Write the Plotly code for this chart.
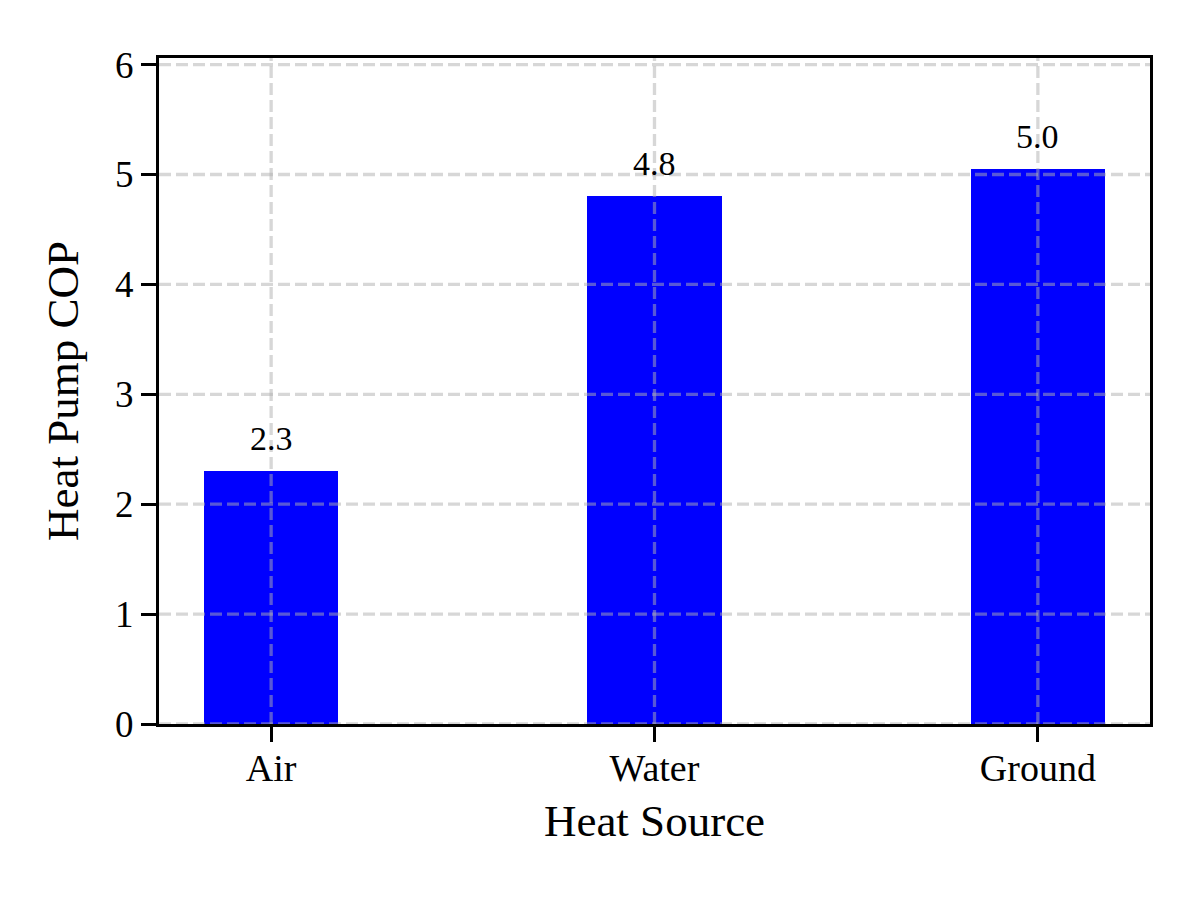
import plotly.graph_objects as go

categories = ["Air", "Water", "Ground"]
cop_values = [2.3, 4.8, 5.05]
value_labels = ["2.3", "4.8", "5.0"]
y_ticks = [0, 1, 2, 3, 4, 5, 6]

FONT = "Liberation Serif"
GRID = "rgba(176,176,176,0.5)"

fig = go.Figure()
fig.add_trace(go.Bar(
    x=categories, y=cop_values, width=0.35,
    marker=dict(color="#0000ff", line=dict(width=0)),
    showlegend=False, hoverinfo="skip",
))

# grid lines drawn above bars (as in reference)
shapes = []
for t in y_ticks:
    shapes.append(dict(type="line", xref="paper", yref="y", x0=0, x1=1, y0=t, y1=t,
                       line=dict(color=GRID, width=3.3, dash="12px,5px"), layer="above"))
for c in categories:
    shapes.append(dict(type="line", xref="x", yref="paper", x0=c, x1=c, y0=0, y1=1,
                       line=dict(color=GRID, width=3.3, dash="12px,5px"), layer="above"))

annotations = []
for c, v, lab in zip(categories, cop_values, value_labels):
    annotations.append(dict(x=c, y=v, text=lab, showarrow=False, xanchor="center",
                            yanchor="bottom", yshift=12,
                            font=dict(family=FONT, size=34, color="black")))

fig.update_layout(
    width=1200, height=900,
    margin=dict(l=159, r=50, t=58, b=176),
    paper_bgcolor="white", plot_bgcolor="white",
    font=dict(family=FONT, color="black"),
    shapes=shapes, annotations=annotations,
    bargap=0,
)
fig.update_xaxes(
    range=[-0.2925, 2.2925], showgrid=False, zeroline=False,
    showline=True, linecolor="black", linewidth=3.3, mirror=True,
    ticks="outside", ticklen=15, tickwidth=3.3, tickcolor="black",
    ticklabelstandoff=-7,
    tickfont=dict(family=FONT, size=38, color="black"),
    title=dict(text="Heat Source", font=dict(family=FONT, size=45, color="black"), standoff=17),
    automargin=False,
)
fig.update_yaxes(
    range=[0, 6.06], tickvals=y_ticks, showgrid=False, zeroline=False,
    showline=True, linecolor="black", linewidth=3.3, mirror=True,
    ticks="outside", ticklen=15, tickwidth=3.3, tickcolor="black",
    tickfont=dict(family=FONT, size=37, color="black"),
    title=dict(text="Heat Pump COP", font=dict(family=FONT, size=45, color="black"), standoff=23),
    automargin=False,
)

fig.write_html("out.html", config={"displayModeBar": False},
               post_script="document.body.style.margin='0';")
